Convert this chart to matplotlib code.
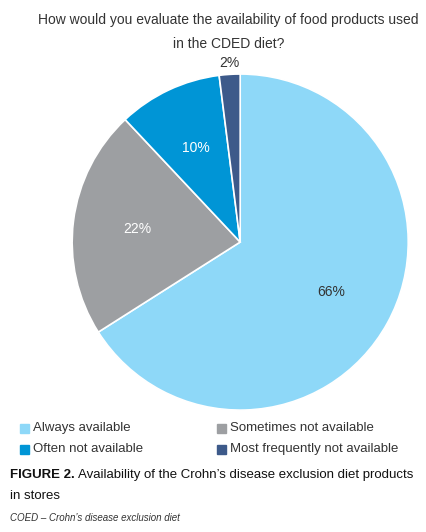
import matplotlib
matplotlib.use("Agg")
import matplotlib.pyplot as plt
from matplotlib.patches import Rectangle
import numpy as np

plt.rcParams["font.family"] = ["Liberation Sans", "DejaVu Sans"]

categories = ["Always available", "Sometimes not available", "Often not available", "Most frequently not available"]
values = [66, 22, 10, 2]
colors = ["#8ed8f8", "#9d9fa2", "#0095d6", "#3d5a8a"]
label_colors = ["#333333", "white", "white", "#333333"]

W, H = 427, 532
fig = plt.figure(figsize=(W / 100, H / 100), dpi=100)

fig.text(0.535, 1 - 20 / H, "How would you evaluate the availability of food products used",
         ha="center", va="center", fontsize=10, color="#333333")
fig.text(0.535, 1 - 44 / H, "in the CDED diet?", ha="center", va="center", fontsize=10, color="#333333")

ax = fig.add_axes([0.169, 0.229, 0.787, 0.632])
wedges, texts = ax.pie(values, colors=colors, startangle=90, counterclock=False,
                       wedgeprops=dict(edgecolor="white", linewidth=1.2))
cum = 0
for v, c in zip(values, label_colors):
    mid = np.deg2rad(90 - (cum + v / 2) * 3.6)
    r = 1.07 if v < 5 else 0.62
    ax.text(r * np.cos(mid), r * np.sin(mid), f"{v}%", ha="center", va="center",
            fontsize=10, color=c)
    cum += v
ax.set_xlim(-1, 1)
ax.set_ylim(-1, 1)
ax.set_aspect("equal")
ax.axis("off")

legend_pos = [(20, 428), (217, 428), (20, 449), (217, 449)]
for (x, y), col, lab in zip(legend_pos, colors, categories):
    fig.patches.append(Rectangle((x / W, 1 - (y + 5) / H), 9 / W, 9 / H, color=col,
                                 transform=fig.transFigure))
    fig.text((x + 13) / W, 1 - y / H, lab, ha="left", va="center", fontsize=9.5, color="#333333")

bold = fig.text(10 / W, 1 - 475 / H, "FIGURE 2.", ha="left", va="center", fontsize=9.5,
                color="#111111", fontweight="bold")
fig.canvas.draw()
bb = bold.get_window_extent()
fig.text((bb.x1 + 3) / W, 1 - 475 / H, "Availability of the Crohn\u2019s disease exclusion diet products",
         ha="left", va="center", fontsize=9.5, color="#111111")
fig.text(10 / W, 1 - 496 / H, "in stores", ha="left", va="center", fontsize=9.5, color="#111111")
fig.text(10 / W, 1 - 518 / H, "COED \u2013 Crohn\u2019s disease exclusion diet", ha="left", va="center",
         fontsize=7, style="italic", color="#333333")

fig.savefig("out.png", dpi=100)
